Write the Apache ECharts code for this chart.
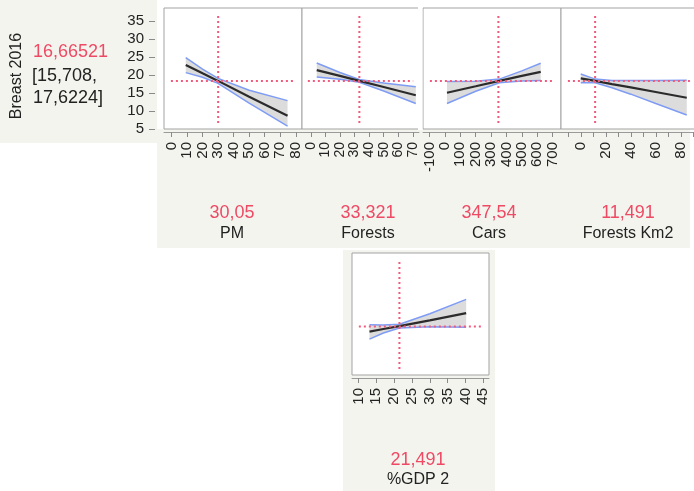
<!DOCTYPE html>
<html>
<head>
<meta charset="utf-8">
<script src="https://cdn.jsdelivr.net/npm/echarts@6/dist/echarts.min.js"></script>
<style>html,body{margin:0;padding:0;background:#fff}#c{width:694px;height:491px}</style>
</head>
<body>
<div id="c"></div>
<script>
// ---------- data ----------
const responseName = 'Breast 2016';
const predictionText = '16,66521';
const intervalText = ['[15,708,', '17,6224]'];
const yTicks = [5, 10, 15, 20, 25, 30, 35];
const yMin = 5, yMax = 38.7;
const crossY = 18.4; // pictured level of the horizontal crosshair

const factorNames = ['PM', 'Forests', 'Cars', 'Forests Km2', '%GDP 2'];
const factorValueText = ['30,05', '33,321', '347,54', '11,491', '21,491'];
const factorCurrent = [30.05, 33.321, 347.54, 11.491, 21.491];
const xMins = [-4.8, -6, -143, -15.8, 8.2];
const xMaxs = [84, 74.2, 755, 94.6, 46.6];

const pmTicks = [0, 10, 20, 30, 40, 50, 60, 70, 80];
const forestsTicks = [0, 10, 20, 30, 40, 50, 60, 70];
const carsTicks = [-100, 0, 100, 200, 300, 400, 500, 600, 700];
const forestsKmTicks = [-10, 0, 10, 20, 30, 40, 50, 60, 70, 80, 90];
const forestsKmLabels = [0, 20, 40, 60, 80];
const gdpTicks = [10, 15, 20, 25, 30, 35, 40, 45];

const pmX     = [9.2, 20, 30, 50, 74.7];
const pmPred  = [22.8, 20.5, 18.4, 14.0, 8.7];
const pmLower = [20.7, 19.4, 17.7, 12.2, 5.8];
const pmUpper = [24.9, 21.7, 19.1, 15.8, 12.9];

const forX     = [4.1, 20, 33.3, 50, 72];
const forPred  = [21.4, 19.8, 18.4, 16.7, 14.4];
const forLower = [19.5, 18.85, 18.0, 15.6, 12.1];
const forUpper = [23.4, 20.75, 18.8, 17.8, 16.8];

const carX     = [13, 200, 354, 500, 623];
const carPred  = [15.1, 16.9, 18.4, 19.8, 20.9];
const carLower = [12.1, 15.5, 17.9, 18.4, 18.5];
const carUpper = [18.2, 18.3, 18.9, 21.2, 23.3];

const fkmX     = [0, 11.5, 25, 40, 60, 84.8];
const fkmPred  = [19.1, 18.4, 17.5, 16.6, 15.3, 13.7];
const fkmLower = [17.9, 17.9, 16.5, 14.7, 12.1, 8.9];
const fkmUpper = [20.3, 18.9, 18.5, 18.5, 18.5, 18.6];

const gdpX     = [13.1, 17, 21.5, 30, 40.2];
const gdpPred  = [17.0, 17.7, 18.5, 20.1, 22.1];
const gdpLower = [14.9, 16.6, 18.0, 18.3, 18.2];
const gdpUpper = [18.9, 18.8, 19.0, 21.9, 25.9];

// ---------- layout & style ----------
const FONT = "'Liberation Sans', Arial, Helvetica, sans-serif";
const RED_TEXT = '#ee4a64';
const RED_LINE = '#f25a7c';
const BLUE = '#7f9cf4';
const BAND = '#dcdcdc';
const BEIGE = '#f4f4ef';
const FRAME = '#a3a3a3';

const panels = [
  {x: pmX, pred: pmPred, lo: pmLower, hi: pmUpper, ticks: pmTicks, labels: pmTicks, fs: 15},
  {x: forX, pred: forPred, lo: forLower, hi: forUpper, ticks: forestsTicks, labels: forestsTicks, fs: 14},
  {x: carX, pred: carPred, lo: carLower, hi: carUpper, ticks: carsTicks, labels: carsTicks, fs: 15},
  {x: fkmX, pred: fkmPred, lo: fkmLower, hi: fkmUpper, ticks: forestsKmTicks, labels: forestsKmLabels, fs: 15},
  {x: gdpX, pred: gdpPred, lo: gdpLower, hi: gdpUpper, ticks: gdpTicks, labels: gdpTicks, fs: 15}
];
const gridPos = [
  {left: 164, top: 8, width: 138, height: 121},
  {left: 302, top: 8, width: 117, height: 121},
  {left: 423, top: 8, width: 138, height: 121},
  {left: 561, top: 8, width: 138, height: 121},
  {left: 352, top: 253, width: 137, height: 122}
];
const labelCenters = [232, 368, 489, 628, 418];
const labelRows = [[213, 234], [213, 234], [213, 234], [213, 234], [460, 480]];

const grids = gridPos.map(g => Object.assign({
  show: true, borderColor: FRAME, borderWidth: 1, backgroundColor: '#fff',
  containLabel: false, outerBoundsMode: 'none'
}, g));

const xAxes = panels.map((p, i) => ({
  type: 'value', gridIndex: i, min: xMins[i], max: xMaxs[i], position: 'bottom',
  offset: 3,
  splitLine: {show: false},
  axisLine: {show: true, onZero: false, lineStyle: {color: '#9a9a9a', width: 1}},
  axisTick: {show: true, length: 5, lineStyle: {color: '#8a8a8a'}, customValues: p.ticks},
  axisLabel: {show: true, rotate: 90, margin: 10, fontSize: p.fs, color: '#222', fontFamily: FONT,
              customValues: p.labels, hideOverlap: false, showMinLabel: true, showMaxLabel: true}
}));

const yAxes = panels.map((p, i) => ({
  type: 'value', gridIndex: i, min: yMin, max: yMax, position: 'left',
  offset: 9,
  splitLine: {show: false},
  axisLine: {show: i === 0, onZero: false, lineStyle: {color: BEIGE}},
  axisTick: {show: i === 0, inside: false, length: 6, lineStyle: {color: '#8a8a8a', width: 1}, customValues: yTicks},
  axisLabel: {show: i === 0, margin: 11, fontSize: 15, color: '#222', fontFamily: FONT,
              customValues: yTicks, showMinLabel: true, showMaxLabel: true}
}));

const series = [];
panels.forEach((p, i) => {
  series.push({
    type: 'custom', xAxisIndex: i, yAxisIndex: i, silent: true, clip: true, z: 1,
    data: [[p.x[0], p.pred[0]]],
    renderItem: (params, api) => {
      const pts = [];
      for (let k = 0; k < p.x.length; k++) pts.push(api.coord([p.x[k], p.lo[k]]));
      for (let k = p.x.length - 1; k >= 0; k--) pts.push(api.coord([p.x[k], p.hi[k]]));
      return {type: 'polygon', shape: {points: pts}, style: {fill: BAND, stroke: null}};
    }
  });
  const line = (ys, color, width, z) => ({
    type: 'line', xAxisIndex: i, yAxisIndex: i, symbol: 'none', silent: true, z: z,
    data: p.x.map((x, k) => [x, ys[k]]),
    lineStyle: {color: color, width: width}
  });
  series.push(line(p.lo, BLUE, 1.5, 2));
  series.push(line(p.hi, BLUE, 1.5, 2));
  series.push(line(p.pred, '#2b2b2b', 2.2, 3));
  const padX = (xMaxs[i] - xMins[i]) * 0.05;
  const padY = (yMax - yMin) * 0.05;
  series.push({
    type: 'line', xAxisIndex: i, yAxisIndex: i, symbol: 'none', silent: true, z: 4,
    data: [[xMins[i] + padX, crossY], [xMaxs[i] - padX, crossY]],
    lineStyle: {color: RED_LINE, width: 2, type: [2, 3]}
  });
  series.push({
    type: 'line', xAxisIndex: i, yAxisIndex: i, symbol: 'none', silent: true, z: 4,
    data: [[factorCurrent[i], yMin + padY], [factorCurrent[i], yMax - padY]],
    lineStyle: {color: RED_LINE, width: 2, type: [2, 3]}
  });
});

const graphics = [
  {type: 'rect', z: -10, shape: {x: 0, y: 0, width: 157, height: 143}, style: {fill: BEIGE}},
  {type: 'rect', z: -10, shape: {x: 157, y: 129, width: 533, height: 119}, style: {fill: BEIGE}},
  {type: 'rect', z: -10, shape: {x: 343, y: 250, width: 152, height: 241}, style: {fill: BEIGE}},
  {type: 'rect', z: 50, shape: {x: 418, y: 0, width: 4.5, height: 130}, style: {fill: '#fff'}},
  {type: 'rect', z: 50, shape: {x: 417, y: 138, width: 5, height: 30}, style: {fill: BEIGE}},
  {type: 'text', z: 60, x: 17, y: 76, rotation: Math.PI / 2,
   style: {text: responseName, fill: '#222', font: '16px ' + FONT, textAlign: 'center', textVerticalAlign: 'middle'}},
  {type: 'text', z: 60, x: 33, y: 52,
   style: {text: predictionText, fill: RED_TEXT, font: '18px ' + FONT, textAlign: 'left', textVerticalAlign: 'middle'}},
  {type: 'text', z: 60, x: 32, y: 76,
   style: {text: intervalText[0], fill: '#222', font: '18px ' + FONT, textAlign: 'left', textVerticalAlign: 'middle'}},
  {type: 'text', z: 60, x: 33, y: 98,
   style: {text: intervalText[1], fill: '#222', font: '18px ' + FONT, textAlign: 'left', textVerticalAlign: 'middle'}}
];
factorNames.forEach((name, i) => {
  graphics.push({type: 'text', z: 60, x: labelCenters[i], y: labelRows[i][0],
    style: {text: factorValueText[i], fill: RED_TEXT, font: '18px ' + FONT, textAlign: 'center', textVerticalAlign: 'middle'}});
  graphics.push({type: 'text', z: 60, x: labelCenters[i], y: labelRows[i][1],
    style: {text: name, fill: '#222', font: '16px ' + FONT, textAlign: 'center', textVerticalAlign: 'middle'}});
});

const chart = echarts.init(document.getElementById('c'), null, {renderer: 'canvas'});
chart.setOption({
  animation: false,
  backgroundColor: '#fff',
  grid: grids,
  xAxis: xAxes,
  yAxis: yAxes,
  series: series,
  graphic: {elements: graphics}
});
</script>
</body>
</html>
